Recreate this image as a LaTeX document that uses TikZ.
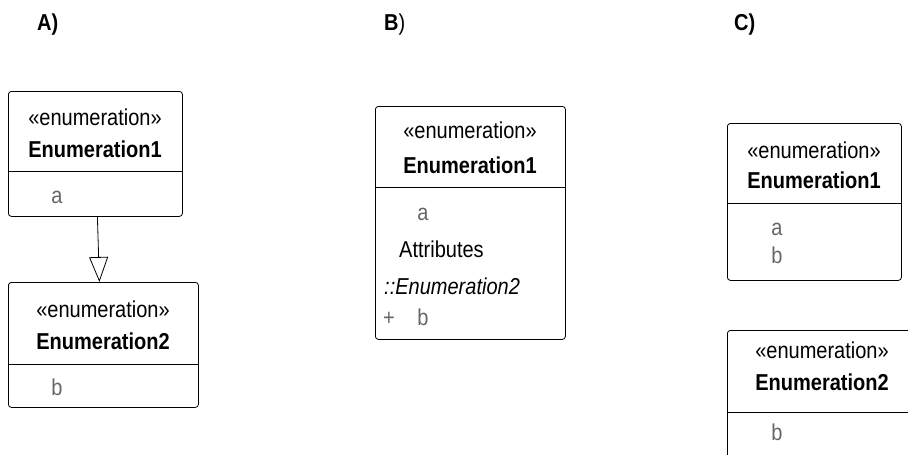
\documentclass[tikz,border=0pt]{standalone}
\usepackage{fontspec}
\setmainfont{Liberation Sans}[FakeStretch=0.87]
\usetikzlibrary{arrows.meta}
\definecolor{attr}{HTML}{666666}
\begin{document}
\begin{tikzpicture}[x=1pt,y=-1pt,
  umlbox/.style={draw, rounded corners=3pt, line width=0.8pt, anchor=north west, inner sep=0pt, rectangle},
  txt/.style={inner sep=0pt, anchor=base, font=\fontsize{23}{27}\selectfont},
  stereo/.style={txt},
  cname/.style={txt, font=\fontsize{23}{27}\selectfont\bfseries},
  attrtxt/.style={txt, text=attr},
  divider/.style={line width=0.8pt},
  lbl/.style={txt, font=\fontsize{23}{27}\selectfont}
]
\useasboundingbox (0,0) rectangle (908,455);
% labels
\node[lbl, anchor=base west] (la) at (37,30) {\bfseries A)};
\node[lbl, anchor=base west] (lb) at (384,30) {\textbf{B})};
\node[lbl, anchor=base west] (lc) at (734,30) {\bfseries C)};

% A1
\node[umlbox, minimum width=174pt, minimum height=125pt] (a1) at (8,91) {};
\draw[divider] (8,171) coordinate (a1l) -- (182,171) coordinate (a1r);
\node[stereo] (a1s) at (95,125) {«enumeration»};
\node[cname] (a1n) at (95,157) {Enumeration1};
\node[attrtxt] (a1a) at (57,203) {a};
% A2
\node[umlbox, minimum width=190pt, minimum height=125pt] (a2) at (8,282) {};
\draw[divider] (8,364) coordinate (a2l) -- (198,364) coordinate (a2r);
\node[stereo] (a2s) at (103,317) {«enumeration»};
\node[cname] (a2n) at (103,349) {Enumeration2};
\node[attrtxt] (a2b) at (57,395) {b};
% generalization
\draw[line width=0.8pt, -{Triangle[open, length=25pt, width=19pt, line width=0.8pt]}]
  ([xshift=2pt]a1.south) -- ([xshift=-4pt]a2.north);

% B
\node[umlbox, minimum width=190pt, minimum height=233pt] (b1) at (375,106) {};
\draw[divider] (375,187) coordinate (b1l) -- (565,187) coordinate (b1r);
\node[stereo] (b1s) at (470,138) {«enumeration»};
\node[cname] (b1n) at (470,173) {Enumeration1};
\node[attrtxt] (b1a) at (423,220) {a};
\node[txt, anchor=base west] (b1t) at (399,257) {Attributes};
\node[txt, anchor=base west, font=\fontsize{23}{27}\selectfont\itshape] (b1e) at (384,294) {::Enumeration2};
\node[attrtxt] (b1p) at (389,325) {+};
\node[attrtxt] (b1b) at (423,325) {b};

% C1
\node[umlbox, minimum width=174pt, minimum height=157pt] (c1) at (727,123) {};
\draw[divider] (727,203) coordinate (c1l) -- (901,203) coordinate (c1r);
\node[stereo] (c1s) at (814,158) {«enumeration»};
\node[cname] (c1n) at (814,188) {Enumeration1};
\node[attrtxt] (c1a) at (777,235) {a};
\node[attrtxt] (c1b) at (777,263) {b};
% C2 (cut by the picture edge)
\begin{scope}
\clip (0,0) rectangle (908,455);
\node[umlbox, minimum width=190pt, minimum height=140pt] (c2) at (727,330) {};
\draw[divider] (727,412) coordinate (c2l) -- (917,412) coordinate (c2r);
\end{scope}
\node[stereo] (c2s) at (822,358) {«enumeration»};
\node[cname] (c2n) at (822,390) {Enumeration2};
\node[attrtxt] (c2b) at (777,440) {b};
\end{tikzpicture}
\end{document}
